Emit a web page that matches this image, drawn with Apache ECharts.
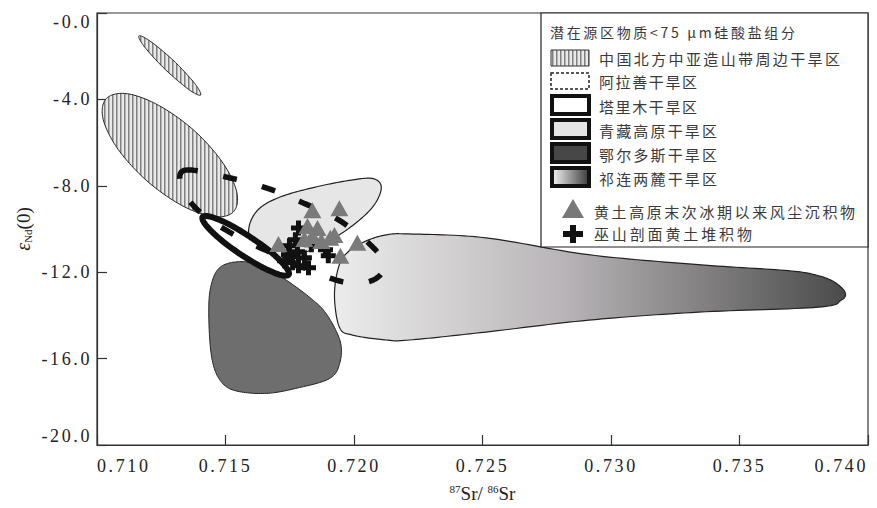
<!DOCTYPE html>
<html>
<head>
<meta charset="utf-8">
<script src="https://cdn.jsdelivr.net/npm/echarts@6/dist/echarts.min.js"></script>
<style>
  html, body { margin: 0; padding: 0; background: #fff; }
  #chart { width: 877px; height: 508px; }
</style>
</head>
<body>
<div id="chart"></div>
<script>
// Axis tick labels
const xTickLabels = ['0.710', '0.715', '0.720', '0.725', '0.730', '0.735', '0.740'];
const yTickLabels = ['-20.0', '-16.0', '-12.0', '-8.0', '-4.0', '-0.0'];

// Source-region outlines: boundary vertices as [87Sr/86Sr, εNd(0)]
const northChinaSmall = [
  [0.71403, -3.80], [0.71357, -3.54], [0.71267, -2.63], [0.71187, -1.60],
  [0.71163, -1.06], [0.71210, -1.33], [0.71300, -2.23], [0.71380, -3.26]
];
const northChinaLarge = [
  [0.71532, -9.19], [0.71454, -9.43], [0.71330, -8.91], [0.71194, -7.77],
  [0.71082, -6.31], [0.71024, -4.92], [0.71035, -3.98], [0.71113, -3.73],
  [0.71236, -4.25], [0.71373, -5.39], [0.71485, -6.86], [0.71543, -8.25]
];
const qilian = [
  [0.71924, -13.03], [0.71943, -11.65], [0.71982, -11.01], [0.72048, -10.55],
  [0.72126, -10.27], [0.72215, -10.23], [0.72514, -10.41], [0.72913, -11.19],
  [0.73340, -11.65], [0.73690, -11.93], [0.73806, -12.16], [0.73872, -12.48],
  [0.73911, -12.94], [0.73895, -13.30], [0.73806, -13.62], [0.73340, -13.85],
  [0.72913, -14.22], [0.72514, -14.77], [0.72215, -15.14], [0.72126, -15.14],
  [0.71994, -14.91], [0.71943, -14.54]
];
const tibet = [
  [0.72106, -8.03], [0.72083, -8.81], [0.72021, -9.59], [0.71924, -10.41],
  [0.71807, -11.10], [0.71691, -11.42], [0.71617, -10.96], [0.71590, -10.05],
  [0.71625, -9.13], [0.71710, -8.53], [0.71846, -8.07], [0.71982, -7.75],
  [0.72071, -7.66]
];
const ordos = [
  [0.71477, -11.79], [0.71555, -11.51], [0.71640, -11.70], [0.71722, -12.25],
  [0.71827, -13.16], [0.71893, -13.94], [0.71947, -15.23], [0.71943, -16.28],
  [0.71904, -16.93], [0.71788, -17.34], [0.71660, -17.61], [0.71536, -17.48],
  [0.71477, -16.97], [0.71446, -15.92], [0.71435, -14.08], [0.71442, -12.71]
];
const taklimakan = [
  [0.71746, -12.11], [0.71712, -12.12], [0.71643, -11.77], [0.71557, -11.16],
  [0.71476, -10.44], [0.71423, -9.81], [0.71411, -9.44], [0.71444, -9.44],
  [0.71513, -9.78], [0.71600, -10.40], [0.71681, -11.11], [0.71734, -11.75]
];
const alxa = [
  [0.71338, -7.29], [0.71508, -7.61], [0.71664, -8.12], [0.71796, -8.76],
  [0.71935, -9.54], [0.72052, -10.60], [0.72118, -11.56], [0.72091, -12.25],
  [0.72013, -12.52], [0.71924, -12.34], [0.71788, -11.70], [0.71652, -10.96],
  [0.71555, -10.41], [0.71419, -9.40], [0.71338, -8.30]
];

// Loess samples
const loessSinceLGM = [
  [0.71706, -10.69], [0.71838, -9.13], [0.71943, -9.04], [0.71819, -9.86],
  [0.71858, -9.95], [0.71924, -10.28], [0.71807, -10.46], [0.71838, -10.32],
  [0.71873, -10.55], [0.71908, -10.41], [0.71947, -11.24], [0.72013, -10.64]
];
const wushanLoess = [
  [0.71784, -9.95], [0.71772, -10.50], [0.71749, -10.78], [0.71745, -11.19],
  [0.71780, -11.05], [0.71807, -11.33], [0.71784, -11.70], [0.71823, -11.79],
  [0.71761, -11.56], [0.71900, -11.24], [0.71889, -10.96], [0.71730, -11.47],
  [0.71834, -10.73]
];

const legendTitle = '潜在源区物质<75 μm硅酸盐组分';
const regionNames = ['中国北方中亚造山带周边干旱区', '阿拉善干旱区', '塔里木干旱区',
  '青藏高原干旱区', '鄂尔多斯干旱区', '祁连两麓干旱区'];
const sampleNames = ['黄土高原末次冰期以来风尘沉积物', '巫山剖面黄土堆积物'];

// vertical hatching used for the North China fields
const hatch = document.createElement('canvas');
hatch.width = 4; hatch.height = 4;
const hctx = hatch.getContext('2d');
hctx.fillStyle = '#e9e9e9'; hctx.fillRect(0, 0, 4, 4);
hctx.fillStyle = '#808080'; hctx.fillRect(0, 0, 1.5, 4);
const hatchFill = { image: hatch, repeat: 'repeat' };

// closed Catmull-Rom curve through the projected outline vertices
function closedSpline(pts, seg) {
  const n = pts.length, out = [];
  for (let i = 0; i < n; i++) {
    const p0 = pts[(i - 1 + n) % n], p1 = pts[i], p2 = pts[(i + 1) % n], p3 = pts[(i + 2) % n];
    for (let k = 0; k < seg; k++) {
      const t = k / seg, t2 = t * t, t3 = t2 * t;
      const f = (a, b, c, d) => 0.5 * (2 * b + (-a + c) * t + (2 * a - 5 * b + 4 * c - d) * t2 + (-a + 3 * b - 3 * c + d) * t3);
      out.push([f(p0[0], p1[0], p2[0], p3[0]), f(p0[1], p1[1], p2[1], p3[1])]);
    }
  }
  return out;
}

function region(name, pts, style) {
  return {
    type: 'custom',
    name: name,
    coordinateSystem: 'cartesian2d',
    silent: true,
    data: pts,
    encode: { x: 0, y: 1 },
    renderItem: function (params, api) {
      if (params.dataIndex !== 0) return null;
      const px = pts.map(p => api.coord(p));
      return {
        type: 'polygon',
        shape: { points: closedSpline(px, 16) },
        style: Object.assign({}, style)
      };
    }
  };
}

const qilianFill = new echarts.graphic.LinearGradient(0, 0, 1, 0, [
  { offset: 0, color: '#ececec' },
  { offset: 0.45, color: '#b8b4b7' },
  { offset: 1, color: '#4b4b4b' }
]);
const qilianSwatch = new echarts.graphic.LinearGradient(0, 0, 1, 0, [
  { offset: 0, color: '#f5f5f5' },
  { offset: 1, color: '#3a3a3a' }
]);

const crossPath = 'path://M5,0H10V5H15V10H10V15H5V10H0V5H5Z';
const serif = '"Liberation Serif", "DejaVu Serif", serif';
const cjk = '"Noto Sans CJK SC", "Noto Sans", sans-serif';

// legend panel drawn as graphic elements
const lgX = 551, lgTextX = 599;
const swatchY = [50, 73, 96, 120, 144, 168];
const rowY = [58, 81, 106, 130, 154, 178, 211, 233];
// caption widths (px) the legend lines are spread to
const captionWidth = {};
captionWidth[legendTitle] = 245;
[241, 98, 98, 118, 118, 118].forEach((w, i) => { captionWidth[regionNames[i]] = w; });
[261, 158].forEach((w, i) => { captionWidth[sampleNames[i]] = w; });

const legendGraphics = [
  { type: 'rect', shape: { x: 541, y: 13, width: 327, height: 234 },
    style: { fill: '#fff', stroke: '#222', lineWidth: 1.2 }, z: 100 },
  { type: 'text', x: 550, y: 32, z: 101,
    style: { text: legendTitle, font: '14px ' + cjk, fill: '#3a3a3a', verticalAlign: 'middle', align: 'left' } },
  { type: 'rect', shape: { x: lgX, y: swatchY[0], width: 38, height: 16 },
    style: { fill: hatchFill, stroke: '#333', lineWidth: 1 }, z: 101 },
  { type: 'rect', shape: { x: lgX, y: swatchY[1], width: 38, height: 16 },
    style: { fill: '#fff', stroke: '#222', lineWidth: 1.5, lineDash: [3, 2] }, z: 101 },
  { type: 'rect', shape: { x: lgX + 1, y: swatchY[2], width: 37, height: 18 },
    style: { fill: '#fff', stroke: '#111', lineWidth: 4 }, z: 101 },
  { type: 'rect', shape: { x: lgX + 1, y: swatchY[3], width: 37, height: 18 },
    style: { fill: '#e4e4e4', stroke: '#111', lineWidth: 4 }, z: 101 },
  { type: 'rect', shape: { x: lgX + 1, y: swatchY[4], width: 37, height: 18 },
    style: { fill: '#474747', stroke: '#111', lineWidth: 4 }, z: 101 },
  { type: 'rect', shape: { x: lgX + 1, y: swatchY[5], width: 37, height: 18 },
    style: { fill: qilianSwatch, stroke: '#111', lineWidth: 4 }, z: 101 },
  { type: 'polygon', shape: { points: [[562, 218], [584, 218], [573, 199]] },
    style: { fill: '#787878' }, z: 101 },
  { type: 'polygon', shape: { points: [[570, 225], [576, 225], [576, 231], [583, 231], [583, 237], [576, 237],
      [576, 243], [570, 243], [570, 237], [563, 237], [563, 231], [570, 231]] },
    style: { fill: '#111' }, z: 101 }
];
regionNames.forEach((name, i) => {
  legendGraphics.push({ type: 'text', x: lgTextX, y: rowY[i], z: 101,
    style: { text: name, font: '15px ' + cjk, fill: '#3a3a3a', verticalAlign: 'middle', align: 'left' } });
});
sampleNames.forEach((name, i) => {
  legendGraphics.push({ type: 'text', x: 594, y: rowY[6 + i], z: 101,
    style: { text: name, font: '15px ' + cjk, fill: '#3a3a3a', verticalAlign: 'middle', align: 'left' } });
});

const chart = echarts.init(document.getElementById('chart'), null, { renderer: 'svg' });

const axisStroke = { color: '#333', width: 1.2 };
chart.setOption({
  animation: false,
  backgroundColor: '#fff',
  grid: { left: 97, right: 9, top: 13, bottom: 59, show: true, borderColor: '#333', borderWidth: 1.2 },
  xAxis: {
    type: 'value', min: 0.710, max: 0.740, interval: 0.005,
    axisLine: { show: true, onZero: false, lineStyle: axisStroke },
    axisTick: { show: true, inside: true, length: 10, lineStyle: axisStroke },
    splitLine: { show: false },
    axisLabel: {
      fontFamily: serif, fontSize: 18, color: '#222', margin: 12,
      alignMinLabel: 'left', alignMaxLabel: 'right',
      formatter: v => xTickLabels[Math.round((v - 0.710) / 0.005)]
    },
    name: '{sup|87}{m|Sr/ }{sup|86}{m|Sr}',
    nameLocation: 'middle', nameGap: 38,
    nameTextStyle: {
      rich: {
        sup: { fontFamily: serif, fontSize: 11, color: '#222', verticalAlign: 'top', lineHeight: 20 },
        m: { fontFamily: serif, fontSize: 19, color: '#222', verticalAlign: 'bottom', lineHeight: 20 }
      }
    }
  },
  yAxis: {
    type: 'value', min: -20, max: 0, interval: 4,
    axisLine: { show: true, onZero: false, lineStyle: axisStroke },
    axisTick: { show: true, inside: true, length: 10, lineStyle: axisStroke },
    splitLine: { show: false },
    axisLabel: {
      fontFamily: serif, fontSize: 18, color: '#222', margin: 5,
      verticalAlignMinLabel: 'bottom', verticalAlignMaxLabel: 'top',
      formatter: v => yTickLabels[Math.round((v + 20) / 4)]
    },
    name: '{e|ε}{sub|Nd}{p|(0)}',
    nameLocation: 'middle', nameGap: 64, nameRotate: 90,
    nameTextStyle: {
      rich: {
        e: { fontFamily: serif, fontSize: 20, fontStyle: 'italic', color: '#222', verticalAlign: 'bottom', lineHeight: 22 },
        sub: { fontFamily: serif, fontSize: 11, color: '#222', verticalAlign: 'bottom', lineHeight: 18 },
        p: { fontFamily: serif, fontSize: 19, color: '#222', verticalAlign: 'bottom', lineHeight: 22 }
      }
    }
  },
  graphic: legendGraphics,
  series: [
    region('中国北方中亚造山带周边干旱区', northChinaSmall, { fill: hatchFill, stroke: '#222', lineWidth: 1 }),
    region('中国北方中亚造山带周边干旱区', northChinaLarge, { fill: hatchFill, stroke: '#222', lineWidth: 1 }),
    region('祁连两麓干旱区', qilian, { fill: qilianFill, stroke: '#222', lineWidth: 1.2 }),
    region('青藏高原干旱区', tibet, { fill: '#e6e6e6', stroke: '#222', lineWidth: 1.2 }),
    region('鄂尔多斯干旱区', ordos, { fill: '#6e6e6e', stroke: '#222', lineWidth: 1 }),
    region('塔里木干旱区', taklimakan, { fill: '#fff', stroke: '#111', lineWidth: 6 }),
    region('阿拉善干旱区', alxa, { fill: 'none', stroke: '#111', lineWidth: 5.5, lineDash: [14, 26] }),
    {
      type: 'scatter', name: sampleNames[1], data: wushanLoess,
      symbol: crossPath, symbolSize: 15, silent: true,
      itemStyle: { color: '#111', opacity: 1 }
    },
    {
      type: 'scatter', name: sampleNames[0], data: loessSinceLGM,
      symbol: 'triangle', symbolSize: [18, 16], silent: true,
      itemStyle: { color: '#7a7a7a', opacity: 1 }
    }
  ]
});

// spread tick labels and legend captions to their printed widths
function spaceText() {
  chart.getDom().querySelectorAll('text').forEach(t => {
    const s = t.textContent;
    const n = Array.from(s).length;
    if (captionWidth[s] && n > 1) {
      t.style.letterSpacing = '0px';
      const w = t.getComputedTextLength();
      t.style.letterSpacing = Math.max(0, (captionWidth[s] - w) / (n - 1)) + 'px';
    } else if (/^-?\d+\.\d+$/.test(s)) {
      t.style.letterSpacing = '2.6px';
    }
  });
}
spaceText();
chart.on('finished', spaceText);
</script>
</body>
</html>
